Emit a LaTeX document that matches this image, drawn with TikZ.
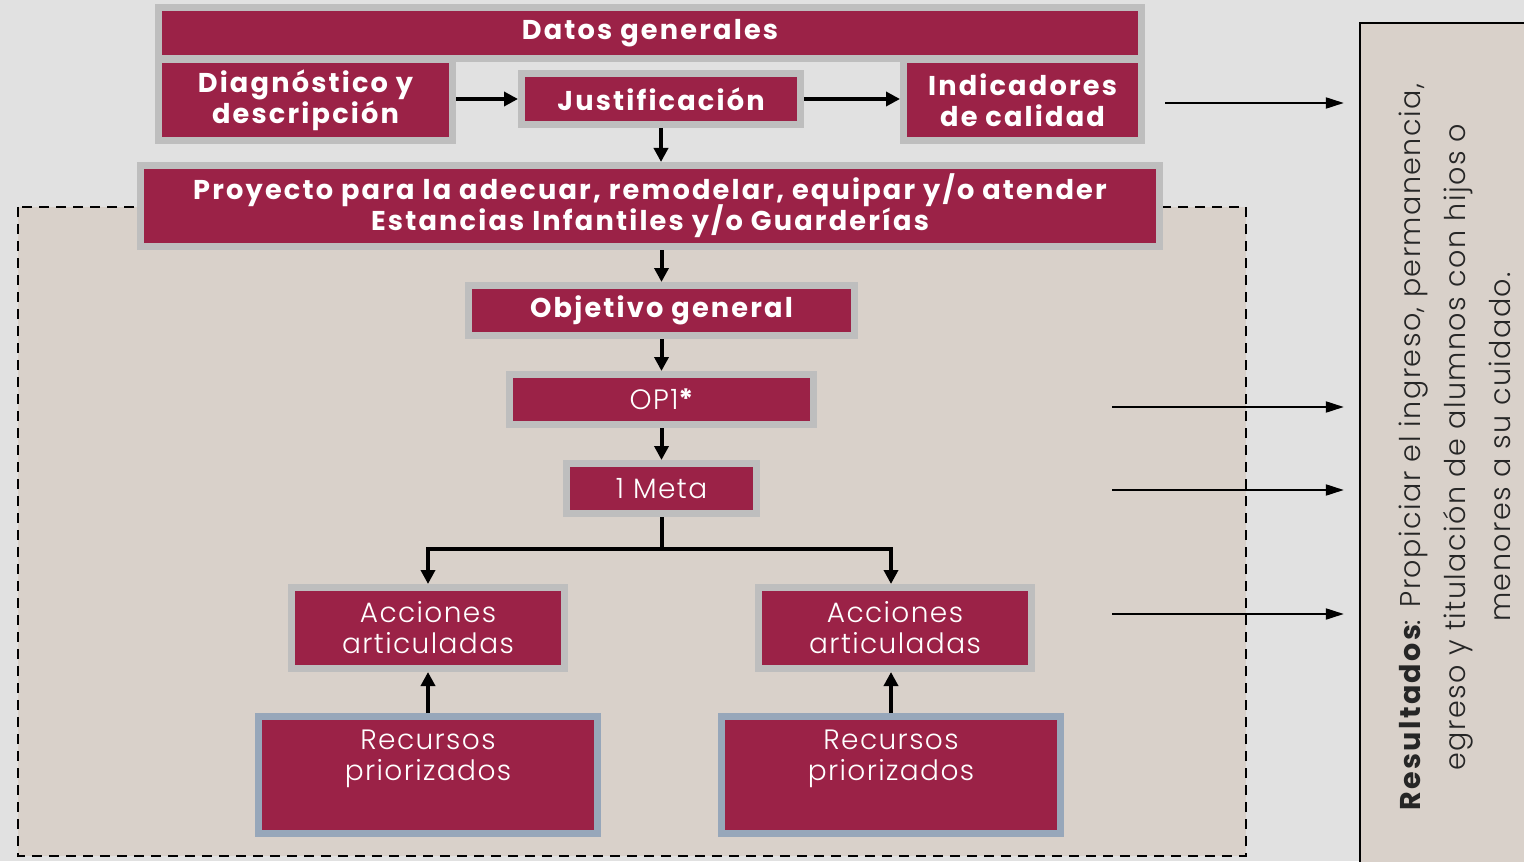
\documentclass[tikz,border=0pt]{standalone}
\usepackage{fontspec}
\setmainfont{Poppins}
\newfontfamily\anchafont[LetterSpace=8]{Poppins}
\newfontfamily\delgadafont[LetterSpace=5]{Poppins Light}
\newcommand\apretado{\lineskiplimit=-10pt\relax}
\usetikzlibrary{arrows.meta, positioning}
\definecolor{guinda}{HTML}{9B2247}
\definecolor{marco}{HTML}{BEBEBE}
\definecolor{marcoazul}{HTML}{97A7BA}
\definecolor{fondo}{HTML}{E1E1E1}
\definecolor{arena}{HTML}{D9D1CA}
\tikzstyle{boldbox} = [rectangle, fill=guinda, draw=marco, line width=3.5pt, text=white, align=center, font=\fontsize{13.6}{15.5}\anchafont\bfseries\apretado]
\tikzstyle{plainbox} = [rectangle, fill=guinda, draw=marco, line width=3.5pt, text=white, align=center, font=\fontsize{14}{15.5}\delgadafont\apretado]
\tikzstyle{resbox} = [plainbox, draw=marcoazul, minimum width=169.5pt, minimum height=58.5pt]
\tikzstyle{arrow} = [line width=2pt, -{Triangle[length=7pt, width=7pt]}]
\tikzstyle{thinarrow} = [line width=1pt, -{Triangle[length=9pt, width=5.5pt]}]

\begin{document}
\begin{tikzpicture}[x=0.5pt, y=-0.5pt, node distance=44.5pt]

\useasboundingbox (0,0) rectangle (1524,861);
\fill [fondo] (0,0) rectangle (1524,861);
\draw [fill=arena, line width=1pt, dash pattern=on 5pt off 3.5pt] (18,207) rectangle (1246,856);

\node (datos) [boldbox, minimum width=491.5pt, minimum height=25.5pt] at (650,33) {Datos generales};
\node (diag) [boldbox, minimum width=147pt, minimum height=40.5pt] at (305.5,100) {Diagnóstico y\\descripción};
\node (justif) [boldbox, minimum width=139.5pt, minimum height=25.5pt] at (661,99) {Justificación};
\node (indic) [boldbox, minimum width=119pt, minimum height=40.5pt] at (1022.5,100) {Indicadores\\de calidad};
\node (proyecto) [boldbox, minimum width=509.5pt, minimum height=40.5pt] at (650,206) {Proyecto para la adecuar, remodelar, equipar y/o atender\\Estancias Infantiles y/o Guarderías};
\node (objetivo) [boldbox, minimum width=193pt, minimum height=25pt] at (661.5,310.5) {Objetivo general};
\node (op1) [plainbox, minimum width=152pt, minimum height=25pt, below of=objetivo] {OP1{\anchafont\bfseries*}};
\node (meta) [plainbox, minimum width=95pt, minimum height=25pt, below of=op1] {1 Meta};
\node (accl) [plainbox, minimum width=136.5pt, minimum height=40.5pt] at (428,628) {Acciones\\articuladas};
\node (accr) [plainbox, minimum width=136.5pt, minimum height=40.5pt, right of=accl, node distance=233.5pt] {Acciones\\articuladas};
\node (recl) [resbox, below of=accl, node distance=73.5pt] {Recursos\\priorizados\\[4.5pt]\mbox{}};
\node (recr) [resbox, right of=recl, node distance=231.5pt] {Recursos\\priorizados\\[4.5pt]\mbox{}};

\node (resultados) [rectangle, draw=black, line width=1.2pt, fill=arena, rotate=90, minimum width=424pt, minimum height=95pt, align=center, text=black!85, font=\fontsize{14.3}{22.5}\delgadafont] at (1455,447) {{\anchafont\bfseries Resultados}: Propiciar el ingreso, permanencia,\\egreso y titulación de alumnos con hijos o\\menores a su cuidado.};

\draw [arrow] (diag.east |- justif.west) -- (justif.west);
\draw [arrow] (justif.east) -- (justif.east -| indic.west);
\draw [arrow] (justif.south) -- (justif.south |- proyecto.north);
\draw [arrow] (objetivo.north |- proyecto.south) -- (objetivo.north);
\draw [arrow] (objetivo) -- (op1);
\draw [arrow] (op1) -- (meta);
\draw [arrow] (meta.south) -- ++(0,32) -| (accl.north);
\draw [arrow] (meta.south) -- ++(0,32) -| ([xshift=-2pt]accr.north);
\draw [arrow] (recl) -- (accl);
\draw [arrow] (recr.north) -- (recr.north |- accr.south);

\coordinate (o1) at (1165,103);
\coordinate (o2) at (1112,407);
\coordinate (o3) at (1112,490);
\coordinate (o4) at (1112,614);
\foreach \c in {o1,o2,o3,o4}
  \draw [thinarrow, shorten >=7.5pt] (\c) -- (\c -| resultados.north);

\end{tikzpicture}
\end{document}
